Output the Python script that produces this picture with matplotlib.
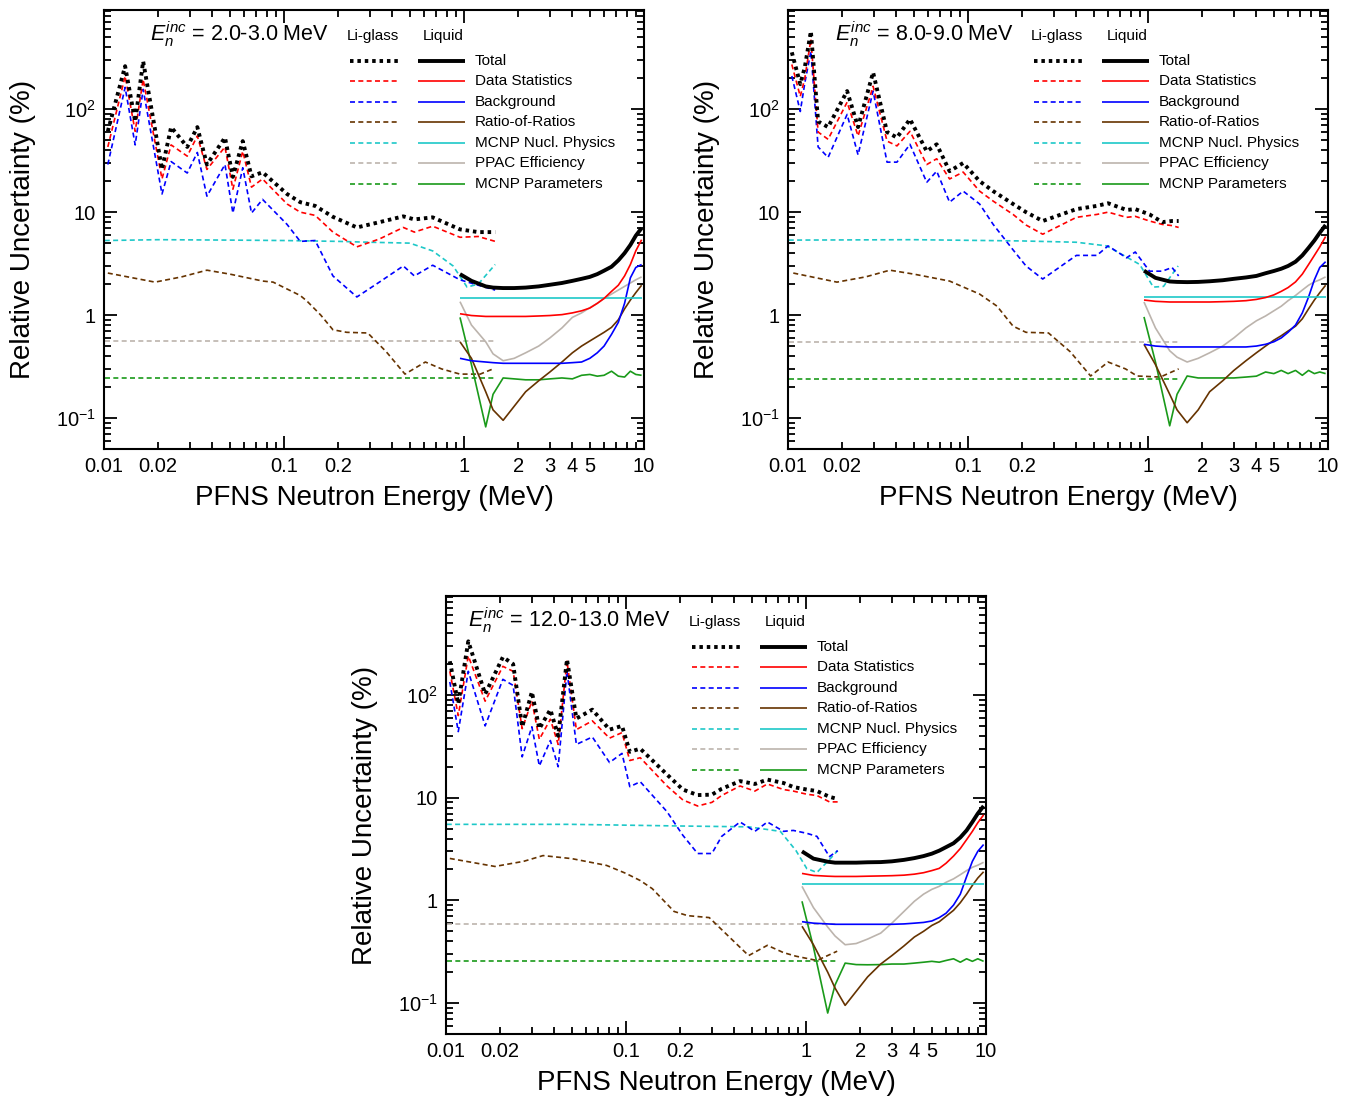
import matplotlib
matplotlib.use("Agg")
import matplotlib.pyplot as plt
from matplotlib.ticker import FixedLocator, FuncFormatter

plt.rcParams['font.family'] = ['Liberation Sans', 'DejaVu Sans']
plt.rcParams['mathtext.fontset'] = 'custom'
plt.rcParams['mathtext.rm'] = 'Liberation Sans'
plt.rcParams['mathtext.it'] = 'Liberation Sans:italic'

# ---- data ----
COMPONENTS = ["Total", "Data Statistics", "Background", "Ratio-of-Ratios",
              "MCNP Nucl. Physics", "PPAC Efficiency", "MCNP Parameters"]
PANEL_TITLES = ["2.0-3.0", "8.0-9.0", "12.0-13.0"]

LI_FLAT_E = [0.0101, 1.5]
LIQ_E = [0.95, 1.1, 1.32, 1.45, 1.65, 1.9, 2.2, 2.6, 3.0, 3.5, 4.0, 4.5, 5.0, 5.5,
         6.0, 6.6, 7.2, 7.8, 8.4, 9.0, 9.7]

# panel 1: E_inc = 2-3 MeV
P1_LI_E = [0.0105, 0.0131, 0.0149, 0.0165, 0.021, 0.0236, 0.029, 0.033, 0.0373, 0.047,
           0.052, 0.059, 0.066, 0.076, 0.104, 0.123, 0.149, 0.187, 0.254, 0.34, 0.46,
           0.53, 0.67, 0.95, 1.2, 1.49]
P1_LI_TOTAL = [61, 262, 76, 292, 26, 67, 43, 67, 29, 53, 22, 49, 22.3, 24.4, 15, 12.5,
               11.5, 9.0, 7.1, 8.0, 9.1, 8.5, 8.9, 6.8, 6.4, 6.4]
P1_LI_STAT = [43, 209, 61, 195, 21, 45, 35, 55, 26, 43, 16.7, 39, 17.5, 21, 12, 10,
              9.3, 6.4, 4.6, 5.5, 7.1, 6.4, 7.3, 5.7, 5.8, 5.2]
P1_LI_BKG = [29, 163, 45, 156, 15, 31, 24, 38, 14.3, 29, 9.8, 27, 9.8, 13.3, 7.6, 5.2,
             5.3, 2.4, 1.5, 2.1, 3.0, 2.4, 3.05, 2.2, 1.95, 1.75]
P1_LI_ROR_E = [0.0105, 0.0192, 0.027, 0.0373, 0.05, 0.0762, 0.087, 0.123, 0.134, 0.16,
               0.187, 0.223, 0.292, 0.37, 0.47, 0.61, 0.75, 0.95, 1.23, 1.45]
P1_LI_ROR = [2.56, 2.09, 2.35, 2.73, 2.5, 2.14, 2.09, 1.55, 1.37, 1.0, 0.72, 0.68, 0.67,
             0.44, 0.267, 0.35, 0.3, 0.267, 0.267, 0.30]
P1_LI_NUCL_E = [0.0101, 0.02, 0.05, 0.1, 0.2, 0.3, 0.5, 0.67, 0.87, 1.04, 1.2, 1.49]
P1_LI_NUCL = [5.3, 5.4, 5.35, 5.3, 5.2, 5.1, 5.0, 4.2, 3.0, 1.87, 2.0, 3.1]
P1_LI_PPAC = [0.56, 0.56]
P1_LI_PARAM = [0.245, 0.245]
P1_LQ_TOTAL = [2.5, 2.15, 1.9, 1.85, 1.83, 1.83, 1.85, 1.9, 1.97, 2.05, 2.15, 2.25, 2.35,
               2.5, 2.7, 2.95, 3.4, 4.0, 4.8, 5.9, 7.0]
P1_LQ_STAT = [1.03, 0.99, 0.97, 0.97, 0.97, 0.97, 0.97, 0.98, 0.99, 1.01, 1.05, 1.1, 1.17,
              1.3, 1.45, 1.7, 1.95, 2.4, 3.1, 4.2, 5.4]
P1_LQ_BKG = [0.38, 0.36, 0.35, 0.345, 0.34, 0.34, 0.34, 0.34, 0.34, 0.34, 0.345, 0.35, 0.38,
             0.43, 0.5, 0.65, 0.85, 1.3, 2.3, 2.9, 3.1]
P1_LQ_ROR = [0.55, 0.38, 0.18, 0.12, 0.095, 0.13, 0.18, 0.23, 0.28, 0.35, 0.43, 0.5, 0.56,
             0.62, 0.68, 0.76, 0.9, 1.15, 1.4, 1.65, 1.95]
P1_LQ_NUCL = [1.45] * 21
P1_LQ_PPAC = [1.35, 0.8, 0.55, 0.42, 0.36, 0.38, 0.43, 0.5, 0.6, 0.75, 0.95, 1.05, 1.18,
              1.3, 1.45, 1.6, 1.75, 1.9, 2.05, 2.2, 2.35]
P1_LQ_PARAM = [0.95, 0.33, 0.082, 0.17, 0.245, 0.24, 0.235, 0.235, 0.24, 0.245, 0.24, 0.26,
               0.265, 0.255, 0.26, 0.285, 0.255, 0.25, 0.285, 0.265, 0.26]

# panel 2: E_inc = 8-9 MeV
P2_LI_E = [0.0105, 0.0117, 0.0124, 0.0134, 0.0147, 0.0167, 0.0213, 0.0245, 0.0297, 0.0355,
           0.0403, 0.0476, 0.059, 0.067, 0.079, 0.094, 0.116, 0.138, 0.178, 0.21, 0.26,
           0.40, 0.52, 0.60, 0.76, 0.85, 1.02, 1.2, 1.36, 1.48]
P2_LI_TOTAL = [357, 175, 256, 572, 76, 67, 150, 67, 228, 60, 53, 80, 39, 45.6, 25, 30, 20,
               16, 12, 10, 8.2, 10.7, 11.5, 12.2, 10.5, 10.7, 9.5, 8.0, 8.2, 8.2]
P2_LI_STAT = [272, 133, 200, 478, 60, 51, 117, 55, 167, 49, 44, 61, 29, 33, 21, 24.5, 16,
              12.8, 9.5, 7.5, 6.1, 8.9, 9.5, 10, 8.9, 9.1, 8.2, 7.6, 7.4, 7.1]
P2_LI_BKG = [210, 95, 180, 365, 43, 34, 89, 36, 150, 30.6, 30.6, 45.6, 19.5, 25, 12.5, 16,
             12, 7.6, 4.3, 3.0, 2.24, 3.8, 3.8, 4.7, 3.6, 4.1, 2.67, 2.67, 2.9, 2.4]
P2_LI_ROR_E = [0.0107, 0.0187, 0.027, 0.0368, 0.05, 0.079, 0.116, 0.145, 0.178, 0.21,
               0.28, 0.37, 0.48, 0.60, 0.75, 0.87, 1.17, 1.48]
P2_LI_ROR = [2.56, 2.09, 2.35, 2.73, 2.5, 2.14, 1.6, 1.22, 0.78, 0.68, 0.67, 0.44, 0.256,
             0.35, 0.3, 0.256, 0.25, 0.30]
P2_LI_NUCL_E = [0.0101, 0.05, 0.2, 0.4, 0.59, 0.9, 1.07, 1.22, 1.47]
P2_LI_NUCL = [5.35, 5.4, 5.25, 5.1, 4.7, 3.1, 1.87, 1.9, 3.0]
P2_LI_PPAC = [0.55, 0.55]
P2_LI_PARAM = [0.24, 0.24]
P2_LQ_TOTAL = [2.7, 2.3, 2.12, 2.1, 2.09, 2.1, 2.13, 2.18, 2.25, 2.32, 2.4, 2.55, 2.68,
               2.82, 3.0, 3.3, 3.8, 4.5, 5.3, 6.3, 7.5]
P2_LQ_STAT = [1.4, 1.36, 1.34, 1.34, 1.34, 1.34, 1.34, 1.35, 1.36, 1.38, 1.42, 1.48, 1.57,
              1.7, 1.85, 2.1, 2.5, 3.1, 3.8, 4.6, 5.8]
P2_LQ_BKG = [0.52, 0.5, 0.49, 0.49, 0.49, 0.49, 0.49, 0.49, 0.49, 0.49, 0.5, 0.52, 0.55,
             0.6, 0.68, 0.8, 1.05, 1.5, 2.2, 2.9, 3.3]
P2_LQ_ROR = [0.52, 0.33, 0.17, 0.12, 0.09, 0.12, 0.18, 0.23, 0.29, 0.36, 0.43, 0.5, 0.57,
             0.63, 0.7, 0.78, 0.92, 1.15, 1.4, 1.65, 1.95]
P2_LQ_NUCL = [1.5] * 21
P2_LQ_PPAC = [1.34, 0.75, 0.45, 0.39, 0.35, 0.38, 0.43, 0.5, 0.6, 0.75, 0.88, 0.98, 1.1,
              1.22, 1.38, 1.55, 1.75, 1.95, 2.1, 2.2, 2.35]
P2_LQ_PARAM = [0.96, 0.35, 0.084, 0.17, 0.256, 0.245, 0.245, 0.245, 0.245, 0.25, 0.255,
               0.28, 0.27, 0.29, 0.27, 0.29, 0.26, 0.29, 0.27, 0.28, 0.27]

# panel 3: E_inc = 12-13 MeV
P3_LI_E = [0.0105, 0.0117, 0.0133, 0.0165, 0.0207, 0.0236, 0.0265, 0.03, 0.033, 0.038,
           0.042, 0.047, 0.053, 0.065, 0.081, 0.095, 0.105, 0.12, 0.169, 0.207, 0.25,
           0.30, 0.34, 0.43, 0.52, 0.61, 0.75, 0.85, 1.01, 1.15, 1.35, 1.5]
P3_LI_TOTAL = [213, 82, 333, 102, 234, 200, 49, 107, 47, 72, 40, 222, 59, 72, 46, 50, 28,
               30, 16.8, 12, 10.6, 10.7, 12.2, 14.5, 13.6, 15, 13.9, 12.7, 12, 11.6, 10.2, 9.7]
P3_LI_STAT = [170, 63, 240, 87, 190, 170, 47, 87, 37, 58, 33, 213, 46, 56, 38, 43, 23,
              24.5, 13, 9.5, 8.3, 9, 10.5, 13, 11.6, 13.6, 12, 11.6, 10.8, 10.5, 9.1, 9.1]
P3_LI_BKG = [134, 44, 170, 50, 142, 124, 25, 49, 20.4, 36, 20, 170, 33, 39, 22, 27, 12.8,
             14.3, 7.3, 4.3, 2.86, 2.86, 4.2, 5.8, 4.7, 5.8, 4.7, 4.8, 4.5, 4.2, 2.67, 3.05]
P3_LI_ROR_E = [0.0105, 0.0187, 0.027, 0.0346, 0.05, 0.078, 0.1, 0.12, 0.14, 0.185, 0.22,
               0.29, 0.37, 0.48, 0.61, 0.75, 0.88, 1.15, 1.49]
P3_LI_ROR = [2.56, 2.14, 2.4, 2.73, 2.55, 2.19, 1.83, 1.56, 1.3, 0.78, 0.71, 0.68, 0.45,
             0.29, 0.365, 0.31, 0.286, 0.26, 0.32]
P3_LI_NUCL_E = [0.0101, 0.05, 0.2, 0.48, 0.72, 0.88, 1.01, 1.15, 1.35, 1.5]
P3_LI_NUCL = [5.5, 5.5, 5.3, 5.2, 4.7, 3.05, 2.04, 1.87, 2.5, 3.05]
P3_LI_PPAC = [0.59, 0.59]
P3_LI_PARAM = [0.255, 0.255]
P3_LQ_TOTAL = [3.0, 2.55, 2.38, 2.33, 2.33, 2.33, 2.35, 2.36, 2.4, 2.48, 2.58, 2.7, 2.85,
               3.05, 3.3, 3.6, 4.1, 4.8, 5.8, 7.0, 8.3]
P3_LQ_STAT = [1.83, 1.75, 1.72, 1.71, 1.71, 1.71, 1.72, 1.73, 1.74, 1.76, 1.8, 1.86, 1.95,
              2.05, 2.3, 2.7, 3.2, 3.9, 4.7, 5.7, 6.8]
P3_LQ_BKG = [0.62, 0.6, 0.59, 0.585, 0.585, 0.585, 0.585, 0.585, 0.585, 0.59, 0.6, 0.61,
             0.63, 0.68, 0.75, 0.9, 1.15, 1.7, 2.4, 3.0, 3.5]
P3_LQ_ROR = [0.56, 0.37, 0.2, 0.14, 0.095, 0.13, 0.18, 0.24, 0.29, 0.36, 0.44, 0.5, 0.57,
             0.62, 0.7, 0.8, 0.95, 1.15, 1.4, 1.65, 1.9]
P3_LQ_NUCL = [1.43] * 21
P3_LQ_PPAC = [1.37, 0.85, 0.55, 0.45, 0.37, 0.38, 0.42, 0.48, 0.6, 0.78, 0.98, 1.15, 1.28,
              1.37, 1.5, 1.62, 1.78, 1.95, 2.1, 2.2, 2.35]
P3_LQ_PARAM = [0.98, 0.35, 0.08, 0.15, 0.245, 0.237, 0.236, 0.237, 0.24, 0.24, 0.245, 0.25,
               0.255, 0.25, 0.26, 0.27, 0.25, 0.27, 0.255, 0.27, 0.255]

# ---- style ----
COLORS = ['black', '#ff0000', '#0000ff', '#663300', '#1ec8c8', '#bcb4ad', '#1a9a1a']
X_LABELS = {0.01: '0.01', 0.02: '0.02', 0.1: '0.1', 0.2: '0.2', 1: '1', 2: '2', 3: '3',
            4: '4', 5: '5', 10: '10'}
Y_LABELS = {0.1: r'$10^{-1}$', 1: '1', 10: '10', 100: r'$10^{2}$'}


def li_style(i):
    if i == 0:
        return dict(lw=2.8, dashes=(0.9, 1.0))
    return dict(lw=1.2, dashes=(3, 2))


def lq_style(i):
    return dict(lw=2.8 if i == 0 else 1.2, ls='-')


def pick_label(table):
    def f(v, p):
        for k, s in table.items():
            if abs(v - k) < 1e-9 * max(1, k):
                return s
        return ''
    return FuncFormatter(f)


def draw_panel(ax, title, title_x, li_series, lq_series):
    # li-glass (dashed) drawn first, total last
    for i in reversed(range(7)):
        x, y = li_series[i]
        ax.plot(x, y, color=COLORS[i], **li_style(i))
    for i in [5, 6, 3, 2, 4, 1, 0]:
        ax.plot(LIQ_E, lq_series[i], color=COLORS[i], solid_capstyle='butt', **lq_style(i))

    ax.set_xscale('log')
    ax.set_yscale('log')
    ax.set_xlim(0.01, 10)
    ax.set_ylim(0.05, 920)

    ax.xaxis.set_major_locator(FixedLocator([0.01, 0.1, 1, 10]))
    minors = [m * d for d in (0.01, 0.1, 1) for m in range(2, 10)]
    ax.xaxis.set_minor_locator(FixedLocator(minors))
    ax.xaxis.set_major_formatter(pick_label(X_LABELS))
    ax.xaxis.set_minor_formatter(pick_label(X_LABELS))

    ax.yaxis.set_major_locator(FixedLocator([0.1, 1, 10, 100]))
    yminors = [m * d for d in (0.01, 0.1, 1, 10, 100) for m in range(2, 10)]
    ax.yaxis.set_minor_locator(FixedLocator(yminors))
    ax.yaxis.set_major_formatter(pick_label(Y_LABELS))
    ax.yaxis.set_minor_formatter(FuncFormatter(lambda v, p: ''))

    ax.tick_params(which='both', direction='in', top=True, right=True, width=1.3,
                   labelsize=14.5, pad=6)
    ax.tick_params(which='major', length=9.5)
    ax.tick_params(which='minor', length=5)
    for sp in ax.spines.values():
        sp.set_linewidth(1.5)

    ax.set_xlabel('PFNS Neutron Energy (MeV)', fontsize=20)
    ax.xaxis.set_label_coords(0.5, -0.112)
    ax.xaxis.label.set_va('center')
    ax.set_ylabel('Relative Uncertainty (%)', fontsize=20)
    ax.yaxis.set_label_coords(-0.15, 0.5)
    ax.yaxis.label.set_va('center')

    ax.text(title_x, 0.929, r'$E_n^{inc}$ = ' + title + ' MeV', transform=ax.transAxes,
            fontsize=15.5, va='baseline', ha='left')

    # two-column legend: Li-glass dashed, Liquid solid
    ax.text(0.498, 0.941, 'Li-glass', transform=ax.transAxes, fontsize=11,
            ha='center', va='center')
    ax.text(0.628, 0.941, 'Liquid', transform=ax.transAxes, fontsize=11,
            ha='center', va='center')
    for i, name in enumerate(COMPONENTS):
        yy = 0.884 - 0.0467 * i
        ax.plot([0.4556, 0.5444], [yy, yy], transform=ax.transAxes, color=COLORS[i],
                clip_on=False, **li_style(i))
        ax.plot([0.5815, 0.6685], [yy, yy], transform=ax.transAxes, color=COLORS[i],
                clip_on=False, solid_capstyle='butt', **lq_style(i))
        ax.text(0.687, yy, name, transform=ax.transAxes, fontsize=11, ha='left',
                va='center')


fig = plt.figure(figsize=(13.54, 10.98), dpi=100)
W, H = 1354, 1098
ax1 = fig.add_axes([104 / W, 1 - 449 / H, 540 / W, 439 / H])
ax2 = fig.add_axes([788 / W, 1 - 449 / H, 540 / W, 439 / H])
ax3 = fig.add_axes([446 / W, 1 - 1034 / H, 540 / W, 438 / H])

draw_panel(ax1, PANEL_TITLES[0], 0.085,
           [(P1_LI_E, P1_LI_TOTAL), (P1_LI_E, P1_LI_STAT), (P1_LI_E, P1_LI_BKG),
            (P1_LI_ROR_E, P1_LI_ROR), (P1_LI_NUCL_E, P1_LI_NUCL),
            (LI_FLAT_E, P1_LI_PPAC), (LI_FLAT_E, P1_LI_PARAM)],
           [P1_LQ_TOTAL, P1_LQ_STAT, P1_LQ_BKG, P1_LQ_ROR, P1_LQ_NUCL, P1_LQ_PPAC, P1_LQ_PARAM])
draw_panel(ax2, PANEL_TITLES[1], 0.087,
           [(P2_LI_E, P2_LI_TOTAL), (P2_LI_E, P2_LI_STAT), (P2_LI_E, P2_LI_BKG),
            (P2_LI_ROR_E, P2_LI_ROR), (P2_LI_NUCL_E, P2_LI_NUCL),
            (LI_FLAT_E, P2_LI_PPAC), (LI_FLAT_E, P2_LI_PARAM)],
           [P2_LQ_TOTAL, P2_LQ_STAT, P2_LQ_BKG, P2_LQ_ROR, P2_LQ_NUCL, P2_LQ_PPAC, P2_LQ_PARAM])
draw_panel(ax3, PANEL_TITLES[2], 0.04,
           [(P3_LI_E, P3_LI_TOTAL), (P3_LI_E, P3_LI_STAT), (P3_LI_E, P3_LI_BKG),
            (P3_LI_ROR_E, P3_LI_ROR), (P3_LI_NUCL_E, P3_LI_NUCL),
            (LI_FLAT_E, P3_LI_PPAC), (LI_FLAT_E, P3_LI_PARAM)],
           [P3_LQ_TOTAL, P3_LQ_STAT, P3_LQ_BKG, P3_LQ_ROR, P3_LQ_NUCL, P3_LQ_PPAC, P3_LQ_PARAM])

fig.savefig('out.png', dpi=100)
